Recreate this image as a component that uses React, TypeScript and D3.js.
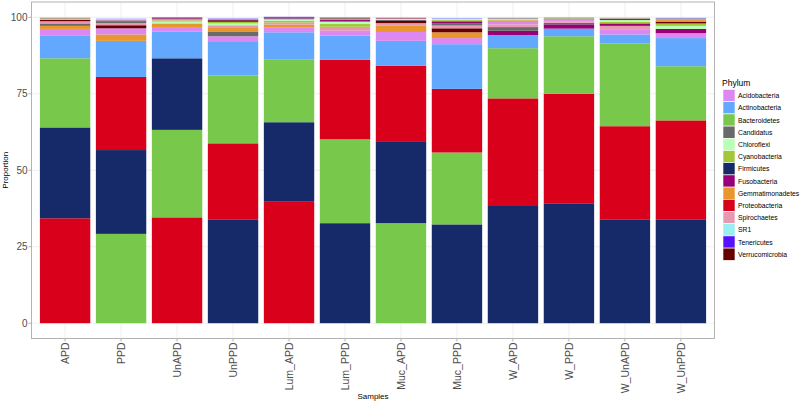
import React from "react";
import * as d3 from "d3";

const samples = ["APD", "PPD", "UnAPD", "UnPPD", "Lum_APD", "Lum_PPD", "Muc_APD", "Muc_PPD", "W_APD", "W_PPD", "W_UnAPD", "W_UnPPD"];

const phyla = ["Acidobacteria", "Actinobacteria", "Bacteroidetes", "Candidatus", "Chloroflexi", "Cyanobacteria", "Firmicutes", "Fusobacteria", "Gemmatimonadetes", "Proteobacteria", "Spirochaetes", "SR1", "Tenericutes", "Verrucomicrobia"];

const phylumColors = ["#dd88f0", "#62a8ff", "#78c84c", "#6a6a6a", "#b8ffb8", "#a2c83a", "#162a6a", "#990077", "#e8962e", "#d8001a", "#e899b2", "#9aeef0", "#5511ff", "#680000"];

const acidobacteria = [2.1, 2.0, 1.4, 1.6, 1.5, 1.6, 2.9, 2.0, 0.8, 0.4, 1.7, 1.6];
const actinobacteria = [7.5, 11.8, 8.8, 11.2, 8.8, 7.9, 8.1, 14.6, 4.3, 2.5, 3.0, 9.2];
const bacteroidetes = [22.6, 29.2, 28.6, 22.2, 20.6, 27.4, 32.7, 23.5, 16.4, 18.8, 27.0, 17.7];
const candidatus = [0.8, 0.6, 0.25, 1.4, 0.3, 0.2, 0.4, 0.8, 1.2, 0.5, 0.1, 0.2];
const chloroflexi = [0.2, 0.2, 0.6, 0.6, 0.45, 0.8, 0.3, 0.3, 0.2, 0.1, 0.5, 1.0];
const cyanobacteria = [0.15, 0.2, 0.4, 0.5, 0.6, 0.9, 0.1, 0.4, 0.3, 0.2, 0.6, 0.8];
const firmicutes = [29.7, 27.4, 23.4, 33.8, 25.8, 32.7, 26.8, 32.3, 38.6, 39.2, 33.8, 33.8];
const fusobacteria = [0.2, 0.3, 0.2, 0.4, 0.2, 0.5, 0.2, 0.6, 1.4, 1.4, 0.8, 1.4];
const gemmatimonadetes = [1.0, 2.1, 1.2, 1.3, 1.0, 0.4, 2.0, 1.9, 0.5, 0.3, 0.2, 0.5];
const proteobacteria = [34.3, 23.9, 34.6, 25.0, 39.9, 26.0, 24.7, 20.8, 34.9, 35.8, 30.6, 32.5];
const spirochaetes = [0.7, 0.7, 0.3, 0.9, 0.7, 1.3, 0.9, 0.9, 0.9, 0.5, 1.1, 0.3];
const sr1 = [0.05, 0.1, 0.05, 0.2, 0.05, 0.1, 0.05, 0.2, 0.1, 0.05, 0.05, 0.1];
const tenericutes = [0.05, 0.05, 0.05, 0.1, 0.05, 0.05, 0.05, 0.1, 0.05, 0.05, 0.05, 0.1];
const verrucomicrobia = [0.5, 1.0, 0.15, 0.4, 0.2, 0.15, 0.7, 1.3, 0.15, 0.1, 0.3, 0.6];

const seriesValues = [acidobacteria, actinobacteria, bacteroidetes, candidatus, chloroflexi, cyanobacteria, firmicutes, fusobacteria, gemmatimonadetes, proteobacteria, spirochaetes, sr1, tenericutes, verrucomicrobia];

const yTicks = [0, 25, 50, 75, 100];

const FONT = "'Liberation Sans', Arial, Helvetica, sans-serif";

export default function App() {
  const W = 800, H = 403;
  const panel = { left: 31.5, right: 714.5, top: 2, bottom: 338.5 };

  const x = d3.scaleBand<string>().domain(samples).range([panel.left, panel.right]).paddingInner(0.1).paddingOuter(0.15);
  const y = d3.scaleLinear().domain([-5, 105]).range([panel.bottom, panel.top]);

  // stack: per sample, sorted descending from the bottom
  const rects: { key: string; x: number; y0: number; y1: number; color: string }[] = [];
  samples.forEach((s, si) => {
    const items = phyla.map((p, pi) => ({ p, pi, v: seriesValues[pi][si] }));
    items.sort((a, b) => b.v - a.v);
    let cum = 0;
    items.forEach((it) => {
      rects.push({ key: s + it.p, x: x(s)!, y0: cum, y1: cum + it.v, color: phylumColors[it.pi] });
      cum += it.v;
    });
  });

  const legendX = 723;
  const legendY0 = 89.5;
  const rowH = 12.2;

  return (
    <svg width={W} height={H} style={{ position: "absolute", left: 0, top: 0, background: "#fff" }} fontFamily={FONT}>
      <rect x={0} y={0} width={W} height={H} fill="#fff" />
      {/* grid */}
      {yTicks.map((t) => (
        <line key={"gy" + t} x1={panel.left} x2={panel.right} y1={y(t)} y2={y(t)} stroke="#ebebeb" strokeWidth={0.8} />
      ))}
      {samples.map((s) => (
        <line key={"gx" + s} x1={x(s)! + x.bandwidth() / 2} x2={x(s)! + x.bandwidth() / 2} y1={panel.top} y2={panel.bottom} stroke="#ebebeb" strokeWidth={0.8} />
      ))}
      {/* bars */}
      {rects.map((r) => (
        <rect key={r.key} x={r.x} width={x.bandwidth()} y={y(r.y1)} height={Math.max(0, y(r.y0) - y(r.y1))} fill={r.color} />
      ))}
      {/* panel border */}
      <rect x={panel.left} y={panel.top} width={panel.right - panel.left} height={panel.bottom - panel.top} fill="none" stroke="#b3b3b3" strokeWidth={1} />
      {/* y axis */}
      {yTicks.map((t) => (
        <g key={"yt" + t}>
          <line x1={panel.left - 3} x2={panel.left} y1={y(t)} y2={y(t)} stroke="#b3b3b3" strokeWidth={1} />
          <text x={panel.left - 4} y={y(t)} textAnchor="end" dominantBaseline="central" fontSize={10} fill="#4d4d4d">{t}</text>
        </g>
      ))}
      {/* x axis */}
      {samples.map((s) => {
        const cx = x(s)! + x.bandwidth() / 2;
        return (
          <g key={"xt" + s}>
            <line x1={cx} x2={cx} y1={panel.bottom} y2={panel.bottom + 3} stroke="#b3b3b3" strokeWidth={1} />
            <text transform={`translate(${cx},${panel.bottom + 4}) rotate(-90)`} textAnchor="end" dominantBaseline="central" fontSize={10.5} fill="#4d4d4d">{s}</text>
          </g>
        );
      })}
      <text x={(panel.left + panel.right) / 2} y={399} textAnchor="middle" fontSize={8} fill="#000">Samples</text>
      <text transform={`translate(8,${(panel.top + panel.bottom) / 2}) rotate(-90)`} textAnchor="middle" fontSize={8} fill="#000">Proportion</text>
      {/* legend */}
      <text x={722} y={86} fontSize={8.5} fill="#000">Phylum</text>
      {phyla.map((p, i) => (
        <g key={"lg" + p}>
          <rect x={legendX} y={legendY0 + i * rowH} width={12} height={rowH} fill={phylumColors[i]} stroke="#fff" strokeWidth={0.6} />
          <text x={738} y={legendY0 + i * rowH + rowH / 2} dominantBaseline="central" fontSize={6.8} fill="#000">{p}</text>
        </g>
      ))}
    </svg>
  );
}
